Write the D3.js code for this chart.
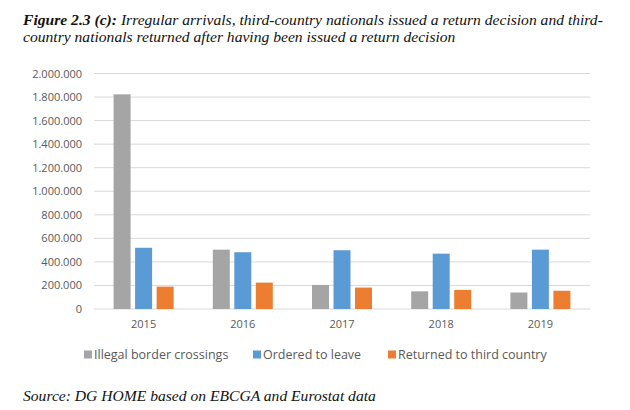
<!DOCTYPE html>
<html><head><meta charset="utf-8">
<script src="https://cdn.jsdelivr.net/npm/d3@7"></script>
<style>body{margin:0;background:#fff;}svg{display:block;}</style>
</head><body>
<script>
const years = ["2015","2016","2017","2018","2019"];
const seriesNames = ["Illegal border crossings","Ordered to leave","Returned to third country"];
const illegalCrossings = [1823000, 504000, 204000, 150000, 140000];
const orderedToLeave = [520000, 482000, 499000, 470000, 504000];
const returnedThird = [190000, 224000, 182000, 162000, 155000];
const yTicks = [0,200000,400000,600000,800000,1000000,1200000,1400000,1600000,1800000,2000000];
const colors = ["#A5A5A5","#5B9BD5","#ED7D31"];
const seriesValues = [illegalCrossings, orderedToLeave, returnedThird];

const W = 630, H = 410;
const svg = d3.select("body").append("svg").attr("width", W).attr("height", H);
svg.append("rect").attr("width", W).attr("height", H).attr("fill", "#fff");

const plotL = 94, plotR = 590, plotT = 73.5, plotB = 309;
const y = d3.scaleLinear().domain([0, 2000000]).range([plotB, plotT]);
const x0 = d3.scaleBand().domain(years).range([plotL, plotR]).padding(0);
const groupW = 60;
const x1 = d3.scaleBand().domain(seriesNames).range([0, groupW]).paddingInner(0.21);

const fmt = v => d3.format(",")(v).replace(/,/g, ".");
const serif = "Liberation Serif, Times New Roman, serif";
const sans = "Open Sans, sans-serif";

// title
const title = svg.append("text").attr("x", 23).attr("y", 24.5)
  .attr("font-family", serif).attr("font-size", 15.6)
  .attr("font-style", "italic").attr("fill", "#111");
title.append("tspan").attr("font-weight", "bold").text("Figure 2.3 (c): ");
title.append("tspan").text("Irregular arrivals, third-country nationals issued a return decision and third-");
svg.append("text").attr("x", 23).attr("y", 42)
  .attr("font-family", serif).attr("font-size", 15.6)
  .attr("font-style", "italic").attr("fill", "#111")
  .text("country nationals returned after having been issued a return decision");

// grid
const grid = svg.append("g");
grid.selectAll("line").data(yTicks).join("line")
  .attr("x1", plotL).attr("x2", plotR)
  .attr("y1", d => y(d)).attr("y2", d => y(d))
  .attr("stroke", "#D9D9D9").attr("stroke-width", 1);

// y axis labels
const yAxis = d3.axisLeft(y).tickValues(yTicks).tickFormat(fmt).tickSize(0).tickPadding(0);
const ya = svg.append("g").attr("transform", `translate(82,0)`).call(yAxis);
ya.select(".domain").remove();
ya.selectAll("text").attr("font-family", sans)
  .attr("font-size", 11).attr("fill", "#595959");

// x axis labels
const xAxis = d3.axisBottom(x0).tickSize(0).tickPadding(0);
const xa = svg.append("g").attr("transform", `translate(0,${plotB + 11})`).call(xAxis);
xa.select(".domain").remove();
xa.selectAll("text").attr("font-family", sans)
  .attr("font-size", 11).attr("fill", "#595959");

// bars
const groups = svg.append("g").selectAll("g").data(years).join("g")
  .attr("transform", d => `translate(${x0(d) + (x0.bandwidth() - groupW) / 2},0)`);
groups.selectAll("rect").data((d, i) => seriesNames.map((s, j) => ({s, j, v: seriesValues[j][i]})))
  .join("rect")
  .attr("x", d => x1(d.s)).attr("width", x1.bandwidth())
  .attr("y", d => y(d.v)).attr("height", d => plotB - y(d.v))
  .attr("fill", d => colors[d.j]);

// legend
const legX = [84, 253, 388];
const leg = svg.append("g").selectAll("g").data(seriesNames).join("g")
  .attr("transform", (d, i) => `translate(${legX[i]},354.5)`);
leg.append("rect").attr("x", 0).attr("y", -4).attr("width", 8).attr("height", 8)
  .attr("fill", (d, i) => colors[i]);
leg.append("text").attr("x", 10).attr("y", 4.5).text(d => d)
  .attr("font-family", sans)
  .attr("font-size", 12.5).attr("fill", "#595959");

// source
svg.append("text").attr("x", 23).attr("y", 401)
  .attr("font-family", serif).attr("font-size", 15.6)
  .attr("font-style", "italic").attr("fill", "#111")
  .text("Source: DG HOME based on EBCGA and Eurostat data");
</script>
</body></html>
